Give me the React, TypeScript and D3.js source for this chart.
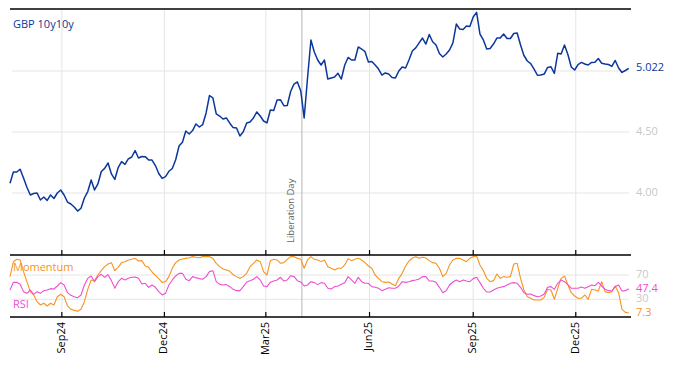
import React from "react";
import * as d3 from "d3";

const START = "2024-07-17";
const STEP_DAYS = 3;

const gbpValues = [
  4.080,4.172,4.172,4.195,4.123,4.047,3.984,3.996,4.000,3.943,
  3.967,3.939,3.984,3.955,4.000,4.025,3.984,3.926,3.910,3.885,
  3.852,3.875,3.959,4.012,4.107,4.025,4.074,4.176,4.202,4.246,
  4.156,4.111,4.209,4.257,4.235,4.279,4.295,4.348,4.287,4.299,
  4.298,4.270,4.270,4.225,4.160,4.120,4.135,4.178,4.201,4.273,
  4.385,4.416,4.508,4.484,4.512,4.566,4.541,4.561,4.656,4.799,
  4.779,4.648,4.631,4.607,4.615,4.572,4.536,4.533,4.467,4.502,
  4.574,4.582,4.615,4.664,4.631,4.590,4.574,4.680,4.676,4.762,
  4.764,4.716,4.717,4.832,4.893,4.910,4.836,4.615,4.943,5.254,
  5.156,5.090,5.049,5.090,4.934,4.943,4.951,4.981,4.934,5.049,
  5.111,5.090,5.090,5.197,5.180,5.158,5.074,5.078,5.049,5.016,
  4.967,4.984,4.975,4.947,4.943,5.000,5.033,5.025,5.090,5.164,
  5.189,5.230,5.270,5.221,5.299,5.240,5.213,5.143,5.115,5.139,
  5.172,5.230,5.385,5.344,5.340,5.369,5.365,5.443,5.480,5.303,
  5.254,5.180,5.184,5.221,5.270,5.270,5.303,5.266,5.266,5.307,
  5.311,5.213,5.127,5.082,5.061,5.016,4.965,4.967,4.975,5.029,
  5.035,4.980,5.145,5.139,5.213,5.135,5.033,5.008,5.053,5.070,
  5.057,5.049,5.070,5.071,5.102,5.063,5.057,5.053,5.037,5.086,
  5.025,4.988,5.004,5.022,
];

const momentumValues = [
  67.3,91.9,95.8,94.7,75.5,59.0,42.6,37.1,26.1,20.6,
  23.4,19.0,23.4,20.6,34.3,38.2,34.3,19.0,13.5,11.8,
  10.2,13.5,26.1,46.4,61.8,60.7,70.0,77.1,83.7,88.1,
  90.3,77.1,82.6,90.3,91.9,94.7,95.8,97.4,93.0,93.6,
  84.8,82.6,74.9,69.5,64.0,57.9,59.0,67.3,81.0,90.3,
  94.7,96.3,97.4,98.5,100.2,99.1,98.5,100.2,100.7,100.2,
  97.4,89.2,83.7,79.9,78.2,76.0,70.5,67.3,64.5,67.3,
  72.7,83.7,89.2,94.7,91.9,75.5,70.0,93.6,95.8,94.7,
  89.2,90.3,95.8,100.2,100.2,97.4,95.8,81.0,94.7,100.2,
  95.8,94.7,92.0,94.7,83.7,81.0,78.2,81.0,81.0,86.5,
  96.9,93.6,95.8,97.4,94.7,90.3,84.8,81.0,70.0,64.5,
  59.0,57.9,58.5,55.2,52.4,64.5,72.7,84.8,93.0,98.0,
  100.2,97.4,99.1,98.0,93.6,90.3,89.2,81.0,67.3,72.7,
  86.5,94.7,97.4,97.4,94.7,91.9,97.4,100.2,101.3,86.5,
  77.1,64.5,59.0,60.7,71.6,64.5,67.3,66.2,67.3,88.1,
  89.2,64.5,45.3,34.3,31.6,28.8,28.8,28.8,33.2,46.4,
  45.3,30.0,48.1,64.5,68.4,53.5,40.9,35.4,31.6,31.6,
  37.1,30.0,46.4,45.3,43.7,59.0,42.6,40.9,42.6,51.9,
  40.9,13.5,8.5,7.3,
];

const rsiValues = [
  45.3,57.9,57.9,54.6,42.6,39.8,45.3,38.2,42.6,39.8,
  44.2,45.3,47.5,47.0,51.9,57.4,53.5,40.9,36.5,34.3,
  32.7,37.1,53.5,64.5,68.4,59.0,67.3,71.1,66.2,70.5,
  60.7,48.1,59.0,64.5,61.8,64.5,66.2,66.7,64.5,55.2,
  56.3,49.7,53.5,49.7,42.6,37.1,39.8,53.5,61.8,68.4,
  72.7,72.7,62.9,60.7,67.3,65.6,64.0,62.9,67.3,75.5,
  77.1,59.0,54.6,53.5,54.1,50.8,46.4,44.2,44.2,50.8,
  58.5,60.7,62.9,67.3,61.8,51.9,50.8,57.9,60.1,61.8,
  66.2,60.1,61.8,68.9,67.3,60.7,58.5,51.9,53.5,59.0,
  57.4,54.1,57.4,56.3,48.1,47.0,50.8,51.9,54.6,57.4,
  67.3,61.8,56.3,66.2,59.0,56.3,56.3,50.8,49.7,48.1,
  44.2,46.4,49.1,48.1,48.1,51.9,59.0,57.9,59.0,60.7,
  61.8,63.4,67.3,67.3,60.1,60.1,57.9,49.7,40.9,44.2,
  53.5,58.5,61.8,59.0,61.8,60.1,59.0,64.0,66.2,57.4,
  48.1,42.0,42.0,45.3,48.1,49.7,50.8,53.5,56.3,57.4,
  56.3,49.7,40.9,38.2,38.8,36.0,34.3,35.4,38.8,49.7,
  50.8,46.4,56.3,61.8,59.0,54.1,48.1,48.1,48.1,50.2,
  48.1,50.8,53.5,52.4,57.9,51.9,46.4,44.2,43.7,50.8,
  53.5,43.7,44.2,47.4,
];

const xTicks = ["2024-09-01", "2024-12-01", "2025-03-01", "2025-06-01", "2025-09-01", "2025-12-01"];
const xTickLabels = ["Sep24", "Dec24", "Mar25", "Jun25", "Sep25", "Dec25"];
const topTicks = [4.0, 4.5, 5.0];
const topTickLabels = ["4.00", "4.50", ""];
const bottomTicks = [30, 70];
const eventDate = "2025-04-02";
const eventLabel = "Liberation Day";

const W = 674;
const H = 366;
const FONT = "'Open Sans', 'Noto Sans', sans-serif";
const BLUE = "#0b379c";
const ORANGE = "#f7941d";
const PINK = "#f04dd2";
const GRID = "#e5e5e5";
const TICKGRAY = "#c8c8c8";

const parse = (s: string) => new Date(s + "T00:00:00Z");
const start = parse(START);
const dates = gbpValues.map((_, i) => d3.utcDay.offset(start, i * STEP_DAYS));

export default function App() {
  const left = 10, right = 631;
  const topY0 = 9, topY1 = 255, botY1 = 317;

  const x = d3.scaleUtc().domain([parse("2024-07-17"), parse("2026-01-19")]).range([left, right]);
  const yTop = d3.scaleLinear().domain([3.492, 5.508]).range([topY1, topY0]);
  const yBot = d3.scaleLinear().domain([0.86, 102.9]).range([botY1, topY1]);

  const lineTop = d3.line<number>().x((_, i) => x(dates[i])).y((d) => yTop(d));
  const lineBot = d3.line<number>().x((_, i) => x(dates[i])).y((d) => yBot(d));

  const lastG = gbpValues[gbpValues.length - 1];
  const lastM = momentumValues[momentumValues.length - 1];
  const lastR = rsiValues[rsiValues.length - 1];
  const ev = x(parse(eventDate));
  const labelX = 636;

  return (
    <svg width={W} height={H} style={{ position: "absolute", left: 0, top: 0, background: "#fff" }} fontFamily={FONT}>
      {/* grid */}
      {topTicks.map((t) => (
        <line key={"tg" + t} x1={left + 2} x2={right - 2} y1={yTop(t)} y2={yTop(t)} stroke={GRID} strokeWidth={1} />
      ))}
      {bottomTicks.map((t) => (
        <line key={"bg" + t} x1={left + 2} x2={right - 2} y1={yBot(t)} y2={yBot(t)} stroke={GRID} strokeWidth={1} />
      ))}
      {xTicks.map((t) => (
        <line key={"vg" + t} x1={x(parse(t))} x2={x(parse(t))} y1={topY0} y2={botY1} stroke={GRID} strokeWidth={1} />
      ))}
      {/* event line */}
      <line x1={ev} x2={ev} y1={topY0} y2={botY1} stroke="#b5b5b5" strokeWidth={1} />
      <text
        transform={`translate(${ev - 10},${topY1 - 12}) rotate(-90)`}
        fontSize={9.5}
        fill="#666"
        textAnchor="start"
        dominantBaseline="middle"
      >
        {eventLabel}
      </text>

      {/* series */}
      <path d={lineTop(gbpValues) || ""} fill="none" stroke={BLUE} strokeWidth={1.5} strokeLinejoin="round" />
      <path d={lineBot(momentumValues) || ""} fill="none" stroke={ORANGE} strokeWidth={1.1} strokeLinejoin="round" />
      <path d={lineBot(rsiValues) || ""} fill="none" stroke={PINK} strokeWidth={1.1} strokeLinejoin="round" />

      {/* frame lines */}
      <line x1={left} x2={right} y1={topY0} y2={topY0} stroke="#000" strokeWidth={1.3} />
      <line x1={left} x2={right} y1={topY1} y2={topY1} stroke="#000" strokeWidth={1.3} />
      <line x1={left} x2={right} y1={botY1} y2={botY1} stroke="#000" strokeWidth={1.3} />
      {xTicks.map((t) => (
        <g key={"tk" + t}>
          <line x1={x(parse(t))} x2={x(parse(t))} y1={topY1} y2={topY1 - 5} stroke="#000" strokeWidth={1.2} />
          <line x1={x(parse(t))} x2={x(parse(t))} y1={botY1} y2={botY1 - 5} stroke="#000" strokeWidth={1.2} />
        </g>
      ))}

      {/* x labels */}
      {xTicks.map((t, i) => (
        <text
          key={"xl" + t}
          transform={`translate(${x(parse(t))},${botY1 + 5}) rotate(-90)`}
          fontSize={11}
          fill="#000"
          textAnchor="end"
          dominantBaseline="middle"
        >
          {xTickLabels[i]}
        </text>
      ))}

      {/* right labels */}
      {topTicks.map((t, i) =>
        topTickLabels[i] ? (
          <text key={"tl" + t} x={labelX} y={yTop(t)} fontSize={11} fill={TICKGRAY} dominantBaseline="middle">
            {topTickLabels[i]}
          </text>
        ) : null
      )}
      <text x={labelX} y={yTop(lastG)} fontSize={11} fill={BLUE} dominantBaseline="middle">
        {lastG.toFixed(3)}
      </text>
      {bottomTicks.map((t) => (
        <text key={"bl" + t} x={labelX} y={yBot(t)} fontSize={11} fill={TICKGRAY} dominantBaseline="middle">
          {t}
        </text>
      ))}
      <text x={labelX} y={yBot(lastR)} fontSize={11} fill={PINK} dominantBaseline="middle">
        {lastR.toFixed(1)}
      </text>
      <text x={labelX} y={yBot(lastM)} fontSize={11} fill={ORANGE} dominantBaseline="middle">
        {lastM.toFixed(1)}
      </text>

      {/* panel titles */}
      <text x={13} y={25} fontSize={11} fill={BLUE} dominantBaseline="middle">GBP 10y10y</text>
      <text x={13} y={268} fontSize={11} fill={ORANGE} dominantBaseline="middle">Momentum</text>
      <text x={13} y={305} fontSize={11} fill={PINK} dominantBaseline="middle">RSI</text>
    </svg>
  );
}
